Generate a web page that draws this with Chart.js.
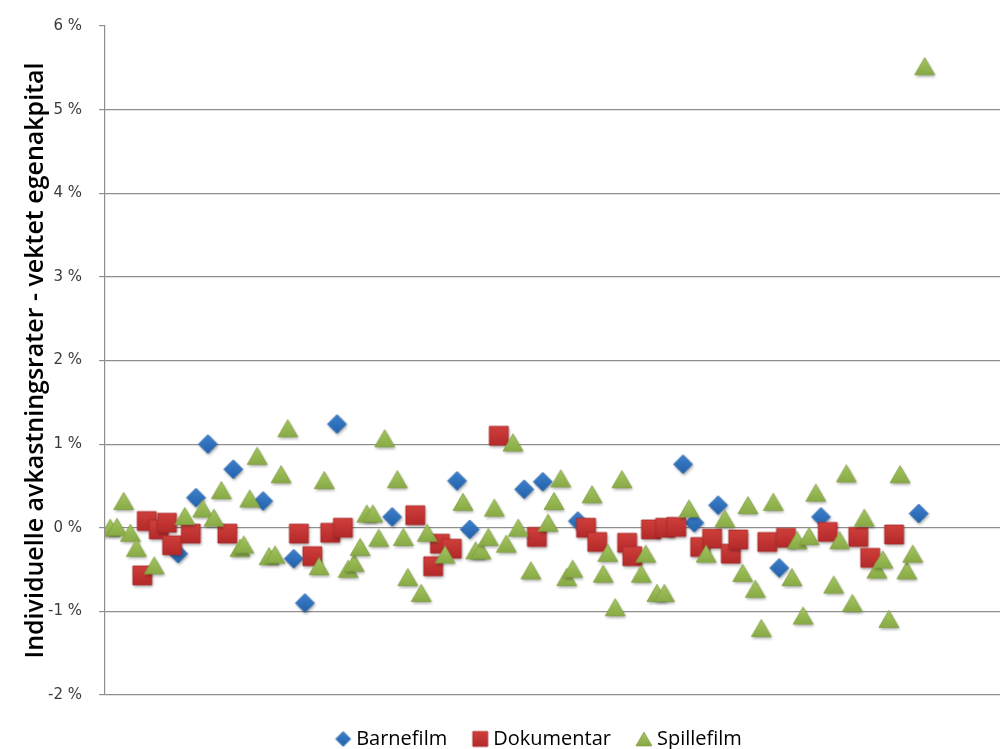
<!DOCTYPE html>
<html>
<head>
<meta charset="utf-8">
<script src="https://cdn.jsdelivr.net/npm/chart.js@4.4.0/dist/chart.umd.min.js"></script>
<style>
  html, body { margin: 0; padding: 0; background: #ffffff; overflow: hidden; }
  #wrap { width: 1000px; height: 749px; }
</style>
</head>
<body>
<div id="wrap"><canvas id="chart" width="1000" height="749"></canvas></div>
<script>
// Return per film, in percent, plotted against the film's running number
const barnefilmX = [9.8, 12.2, 13.8, 17.2, 21.2, 25.3, 26.8, 31.1, 38.5, 47.2, 48.9, 56.2, 58.7, 63.4, 77.5, 79.0, 82.2, 90.4, 96.0, 109.1];
const barnefilmY = [-0.31, 0.36, 1.00, 0.70, 0.32, -0.37, -0.90, 1.24, 0.13, 0.56, -0.02, 0.46, 0.55, 0.08, 0.76, 0.06, 0.27, -0.48, 0.13, 0.17];

const dokumentarX = [5.0, 5.6, 7.2, 8.3, 9.0, 11.5, 16.4, 26.0, 27.8, 30.2, 31.9, 41.6, 44.0, 44.9, 46.5, 52.8, 57.9, 64.5, 66.0, 70.0, 70.7, 73.2, 75.1, 76.6, 79.8, 81.4, 83.9, 84.9, 88.8, 91.3, 96.9, 101.0, 102.6, 105.8];
const dokumentarY = [-0.57, 0.08, -0.02, 0.06, -0.21, -0.07, -0.07, -0.07, -0.34, -0.06, 0.00, 0.15, -0.46, -0.19, -0.25, 1.10, -0.11, 0.00, -0.17, -0.18, -0.34, -0.02, 0.00, 0.01, -0.23, -0.13, -0.31, -0.14, -0.17, -0.12, -0.05, -0.11, -0.36, -0.08];

const spillefilmX = [0.7, 1.6, 2.5, 3.4, 4.2, 6.6, 10.7, 13.1, 14.6, 15.6, 18.1, 18.6, 19.4, 20.4, 22.0, 22.8, 23.6, 24.5, 28.7, 29.4, 32.6, 33.4, 34.2, 35.1, 35.9, 36.7, 37.5, 39.2, 40.0, 40.6, 42.4, 43.2, 45.6, 48.0, 49.7, 50.4, 51.4, 52.2, 53.8, 54.7, 55.4, 57.1, 59.4, 60.2, 61.1, 61.9, 62.7, 65.3, 66.8, 67.4, 68.4, 69.3, 71.9, 72.5, 74.0, 75.0, 78.3, 80.6, 83.1, 85.5, 86.2, 87.2, 88.0, 89.6, 92.1, 92.8, 93.6, 94.4, 95.3, 97.7, 98.5, 99.4, 100.2, 101.8, 103.5, 104.3, 105.1, 106.6, 107.5, 108.3, 109.9];
const spillefilmY = [0.00, 0.01, 0.32, -0.06, -0.24, -0.45, 0.14, 0.23, 0.12, 0.45, -0.24, -0.20, 0.35, 0.86, -0.34, -0.32, 0.64, 1.19, -0.46, 0.57, -0.49, -0.42, -0.23, 0.17, 0.17, -0.12, 1.07, 0.58, -0.11, -0.59, -0.78, -0.06, -0.32, 0.31, -0.27, -0.27, -0.11, 0.24, -0.19, 1.02, 0.00, -0.51, 0.06, 0.32, 0.59, -0.59, -0.49, 0.40, -0.55, -0.30, -0.95, 0.58, -0.55, -0.31, -0.78, -0.78, 0.23, -0.31, 0.11, -0.54, 0.27, -0.73, -1.20, 0.31, -0.59, -0.15, -1.05, -0.10, 0.42, -0.68, -0.15, 0.65, -0.90, 0.12, -0.50, -0.38, -1.09, 0.64, -0.51, -0.31, 5.52];

const seriesNames = ['Barnefilm', 'Dokumentar', 'Spillefilm'];
const yTickValues = [-2, -1, 0, 1, 2, 3, 4, 5, 6];
const axisTitle = 'Individuelle avkastningsrater - vektet egenakpital';

const pairs = (xs, ys) => xs.map((x, i) => ({ x, y: ys[i] }));

// Shaded marker sprites with a soft drop shadow
function makeMarker(shape, size, top, bottom, edge, shadow) {
  const pad = 7;
  const w = Math.ceil(size) + pad * 2;
  const cv = document.createElement('canvas');
  cv.width = w; cv.height = w;
  const g = cv.getContext('2d');
  const cx = w / 2, cy = w / 2, h = size / 2;
  g.beginPath();
  if (shape === 'diamond') {
    g.moveTo(cx, cy - h); g.lineTo(cx + h, cy); g.lineTo(cx, cy + h); g.lineTo(cx - h, cy);
  } else if (shape === 'square') {
    g.rect(cx - h, cy - h, size, size);
  } else {
    const th = size * 0.86;
    g.moveTo(cx, cy - th / 2); g.lineTo(cx + h, cy + th / 2); g.lineTo(cx - h, cy + th / 2);
  }
  g.closePath();
  const grad = g.createLinearGradient(0, cy - h, 0, cy + h);
  grad.addColorStop(0, top);
  grad.addColorStop(1, bottom);
  if (shadow) {
    g.shadowColor = 'rgba(0,0,0,0.33)';
    g.shadowBlur = 3;
    g.shadowOffsetX = 1;
    g.shadowOffsetY = 2;
  }
  g.fillStyle = grad;
  g.fill();
  g.shadowColor = 'transparent';
  g.strokeStyle = edge;
  g.lineWidth = 0.8;
  g.stroke();
  return cv;
}

const palette = {
  Barnefilm:  { shape: 'diamond', top: '#3f80cc', bottom: '#2262ab', edge: '#2a64a8', size: 19 },
  Dokumentar: { shape: 'square',  top: '#d0403b', bottom: '#b3292a', edge: '#a82a28', size: 19 },
  Spillefilm: { shape: 'triangle', top: '#a6c763', bottom: '#86a843', edge: '#7f9e40', size: 20 }
};
const dataSprites = {}, legendSprites = {};
seriesNames.forEach(n => {
  const p = palette[n];
  dataSprites[n] = makeMarker(p.shape, p.size, p.top, p.bottom, p.edge, true);
  legendSprites[n] = makeMarker(p.shape, p.shape === 'triangle' ? 16 : 15, p.top, p.bottom, p.edge, false);
});

const seriesData = {
  Barnefilm: pairs(barnefilmX, barnefilmY),
  Dokumentar: pairs(dokumentarX, dokumentarY),
  Spillefilm: pairs(spillefilmX, spillefilmY)
};

// Spillefilm is listed first so it is painted on top of the others
const drawOrder = ['Spillefilm', 'Dokumentar', 'Barnefilm'];
const datasets = drawOrder.map(n => ({
  label: n,
  data: seriesData[n],
  pointStyle: dataSprites[n],
  pointRadius: 10,
  pointHoverRadius: 10,
  backgroundColor: palette[n].top,
  borderColor: palette[n].edge,
  showLine: false
}));

// Axis title sized to span the plot height
const titleFamily = "'Open Sans', sans-serif";
const titleWeight = '600';
const titleSize = (() => {
  const g = document.createElement('canvas').getContext('2d');
  g.font = titleWeight + ' 20px ' + titleFamily;
  return 20 * 596 / g.measureText(axisTitle).width;
})();

const PLOT_BOTTOM = 695;
const LEGEND_TEXT_Y = 739;
const LEGEND_SHIFT_X = 41;

const legendPlacement = {
  id: 'legendPlacement',
  afterLayout(chart) {
    const lg = chart.legend;
    if (!lg) return;
    const pad = lg.options.labels.padding;
    const half = lg.options.labels.font.size / 2;
    const top = LEGEND_TEXT_Y - half - pad;
    lg.bottom = top + lg.height;
    lg.top = top;
    lg.left += LEGEND_SHIFT_X;
    lg.right += LEGEND_SHIFT_X;
  }
};

new Chart(document.getElementById('chart'), {
  type: 'scatter',
  data: { datasets },
  plugins: [legendPlacement],
  options: {
    responsive: false,
    animation: false,
    events: [],
    layout: { autoPadding: false, padding: { top: 22, right: 0, bottom: 0, left: 0 } },
    scales: {
      x: {
        type: 'linear',
        min: 0,
        max: 120,
        display: false
      },
      y: {
        type: 'linear',
        min: -2,
        max: 6,
        afterBuildTicks(scale) { scale.ticks = yTickValues.map(v => ({ value: v })); },
        afterFit(scale) { scale.width = 105; },
        ticks: {
          callback: v => v + ' %',
          font: { family: "'DejaVu Sans', sans-serif", size: 15 },
          color: '#3a3a3a',
          padding: 17
        },
        grid: {
          color: c => (c.tick && c.tick.value === 6) ? 'rgba(0,0,0,0)' : '#8e8e8e',
          tickColor: '#8e8e8e',
          tickLength: 6,
          lineWidth: 1.2
        },
        border: { display: true, color: '#8e8e8e', width: 1.2 },
        title: {
          display: true,
          text: axisTitle,
          color: '#000000',
          font: { family: titleFamily, size: titleSize, weight: titleWeight, lineHeight: 1.2 },
          padding: { top: 36 - titleSize * 0.6, bottom: 0 }
        }
      }
    },
    plugins: {
      tooltip: { enabled: false },
      legend: {
        display: true,
        position: 'bottom',
        maxHeight: 749 - PLOT_BOTTOM,
        labels: {
          usePointStyle: true,
          pointStyleWidth: 6,
          padding: 30,
          color: '#262626',
          font: { family: "'Open Sans', sans-serif", size: 20 },
          generateLabels(chart) {
            return seriesNames.map(n => ({
              text: n,
              pointStyle: legendSprites[n],
              fillStyle: palette[n].top,
              strokeStyle: palette[n].edge,
              lineWidth: 0,
              hidden: false,
              datasetIndex: drawOrder.indexOf(n)
            }));
          }
        }
      }
    }
  }
});
</script>
</body>
</html>
